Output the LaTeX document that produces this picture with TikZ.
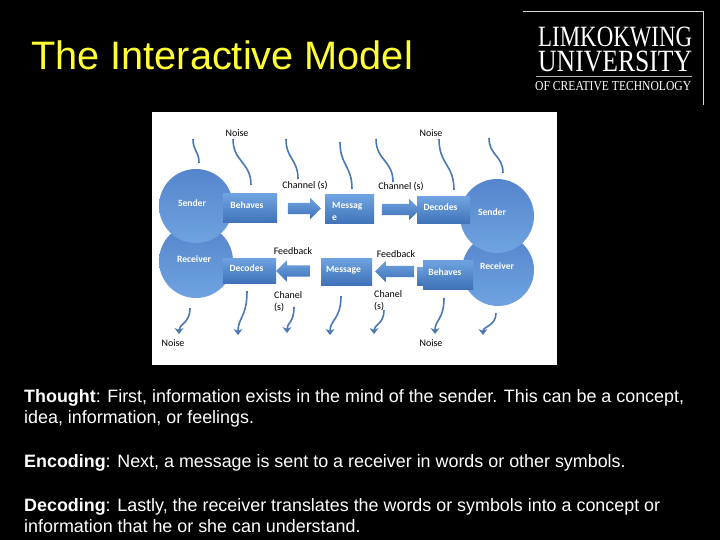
\documentclass[tikz,border=0pt]{standalone}
\usepackage{fontspec}
\setmainfont{Liberation Sans}
\newfontfamily\diagramfont{Carlito}
\newfontfamily\logofont{Liberation Serif}
\usetikzlibrary{arrows.meta,calc,shapes.arrows}
\definecolor{paneblue}{HTML}{6FA3E0}
\definecolor{panedark}{HTML}{3F72B8}
\definecolor{circletop}{HTML}{5585CC}
\definecolor{wavecol}{HTML}{4A78B5}
\definecolor{titleyellow}{HTML}{FFFF33}
\tikzset{
  wholecircle/.style={circle,inner sep=0pt,top color=circletop,bottom color=paneblue},
  blockbox/.style={rectangle,inner sep=0pt,top color=paneblue,bottom color=panedark,text=white,
    font=\diagramfont\bfseries\fontsize{9.6}{12}\selectfont,text height=7pt,text depth=6pt,execute at end node=\hspace*{6pt}},
  blockarrow/.style={single arrow,inner sep=5.5pt,single arrow head extend=5pt,
    top color=paneblue,bottom color=panedark},
  circletext/.style={text=white,inner sep=0pt,font=\diagramfont\bfseries\fontsize{9.6}{12}\selectfont},
  smalltext/.style={text=black,inner sep=0pt,align=left,font=\diagramfont\fontsize{10}{12}\selectfont},
  bodyline/.style={anchor=base west,text=white,inner sep=0pt,font=\fontsize{17.9}{21}\selectfont},
  logoline/.style={anchor=base west,text=white,inner sep=0pt,font=\logofont},
  noisewave/.style={wavecol,line width=1.6pt},
  noisearrow/.style={noisewave,-{Stealth[width=9pt,length=6pt]}}
}
\begin{document}
\begin{tikzpicture}[x=1pt,y=-1pt]
  \useasboundingbox (0,0) rectangle (720,540);
  \fill[black] (0,0) rectangle (720,540);
  \node[anchor=base west,text=titleyellow,inner sep=0pt,font=\fontsize{39.7}{44}\selectfont] (title) at (31,70) {The Interactive Model};
  % logo
  \draw[white!85!black,line width=1pt] (523,11.5) -- (703.5,11.5) -- (703.5,105);
  \node[logoline] (logoa) at (538,47) {\resizebox{154pt}{19.5pt}{LIMKOKWING}};
  \node[logoline] (logob) at (538,72) {\resizebox{154pt}{20.5pt}{UNIVERSITY}};
  \draw[white!70!black,line width=.8pt] (536,76) -- (692,76);
  \node[logoline] (logoc) at (535,90.5) {\resizebox{156pt}{9pt}{OF CREATIVE TECHNOLOGY}};
  % diagram
  \fill[white] (152,112) rectangle (557,365);
  \node[wholecircle,minimum size=74pt] (receiverL) at (196,261) {};
  \node[wholecircle,minimum size=74pt] (senderL) at (196,206) {};
  \node[wholecircle,minimum size=72pt] (receiverR) at (498,270) {};
  \node[wholecircle,minimum size=74pt] (senderR) at (497,216) {};
  \node[circletext] (senderLtext) at (192,203) {Sender};
  \node[circletext] (receiverLtext) at (194,259) {Receiver};
  \node[blockbox,minimum width=54pt,minimum height=29pt] (behavesT) at (250,208.5) {Behaves};
  \node[blockbox,minimum width=49pt,minimum height=29pt] (messageT) at (349.5,209.5) {};
  \node[anchor=west,text=white,inner sep=0pt,align=left,font=\diagramfont\bfseries\fontsize{9.6}{12}\selectfont] (messageTtext) at (332,211) {Messag\\e};
  \node[blockbox,minimum width=53pt,minimum height=27pt] (decodesT) at (443.5,210.5) {Decodes};
  \node[blockbox,minimum width=53pt,minimum height=25pt] (decodesB) at (249.5,270.5) {Decodes};
  \node[blockbox,minimum width=51pt,minimum height=27pt] (messageB) at (346.5,271.5) {Message};
  \node[blockbox,minimum width=53pt,minimum height=18pt] (behavesback) at (443.5,276) {};
  \node[blockbox,minimum width=50pt,minimum height=29pt] (behavesB) at (448,274.5) {Behaves};
  \node[circletext] (senderRtext) at (492,212) {Sender};
  \node[circletext] (receiverRtext) at (497,266) {Receiver};
  % block arrows
  \node[blockarrow,minimum height=33pt] (channelA) at (301.5,208.5) {};
  \node[blockarrow,minimum height=38pt] (channelB) at (398,209.5) {};
  \node[blockarrow,shape border rotate=180,minimum height=34pt] (feedbackA) at (296,271) {};
  \node[blockarrow,shape border rotate=180,minimum height=39pt] (feedbackB) at (397.5,271.5) {};
  % noise lines, top row then bottom row
  \foreach \i/\xa/\ya/\xb/\yb in {1/193/139/199/163,2/233/139/251/185,3/286/139/298/179,4/340/142/352/189,
    5/376/139/393/182,6/439/139/454/190,7/489/138/503/173} {
    \coordinate (waveA\i) at (\xa,\ya);
    \coordinate (waveB\i) at (\xb,\yb);
    \coordinate (waveM\i) at ($(waveA\i)!.5!(waveB\i)$);
    \draw[noisewave] (waveA\i) .. controls (waveA\i |- waveM\i) and (waveB\i |- waveM\i) .. (waveB\i);
  }
  \foreach \i/\xa/\ya/\xb/\yb in {1/190/308/179/334,2/247/291/238/335,3/294/307/287/333,4/341/296/330/335,
    5/384/310/374/334,6/444/298/435/334,7/496/313/483/335} {
    \coordinate (dropA\i) at (\xa,\ya);
    \coordinate (dropB\i) at (\xb,\yb);
    \coordinate (dropM\i) at ($(dropA\i)!.6!(dropB\i)$);
    \draw[noisearrow] (dropA\i) .. controls (dropA\i |- dropM\i) and (dropB\i |- dropM\i) .. (dropB\i);
  }
  % labels
  \node[smalltext] (noiseA) at (237,133) {Noise};
  \node[smalltext] (noiseB) at (431,133) {Noise};
  \node[smalltext] (noiseC) at (173,343) {Noise};
  \node[smalltext] (noiseD) at (431,343) {Noise};
  \node[smalltext] (channelAtext) at (305,186) {Channel (s)};
  \node[smalltext] (channelBtext) at (401,187) {Channel (s)};
  \node[smalltext] (feedbackAtext) at (293,251) {Feedback};
  \node[smalltext] (feedbackBtext) at (396,254) {Feedback};
  \node[smalltext,anchor=west] (chanelA) at (274,302) {Chanel\\(s)};
  \node[smalltext,anchor=west] (chanelB) at (374,301) {Chanel\\(s)};
  % text below
  \node[bodyline] (lineA) at (24,402) {\textbf{Thought}: First, information exists in the mind of the sender. This can be a concept,};
  \node[bodyline] (lineB) at (24,423) {idea, information, or feelings.};
  \node[bodyline] (lineC) at (24,467) {\textbf{Encoding}: Next, a message is sent to a receiver in words or other symbols.};
  \node[bodyline] (lineD) at (24,511) {\textbf{Decoding}: Lastly, the receiver translates the words or symbols into a concept or};
  \node[bodyline] (lineE) at (24,532) {information that he or she can understand.};
\end{tikzpicture}
\end{document}
